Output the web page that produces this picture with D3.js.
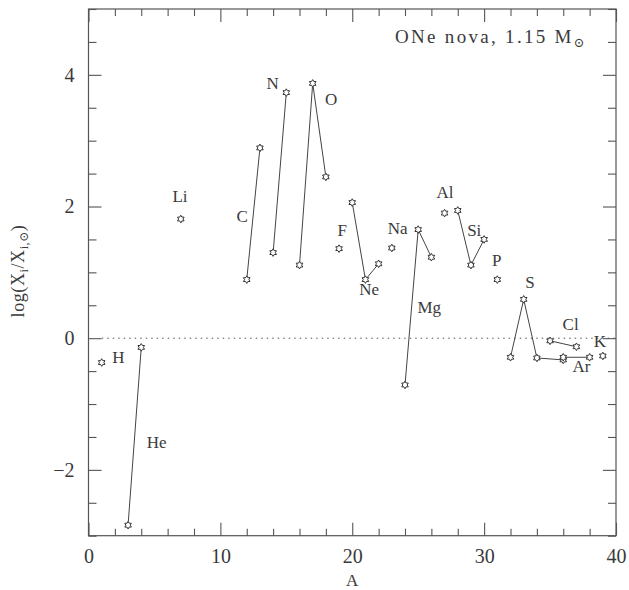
<html>
<head>
<style>
  body { margin: 0; background: #fff; }
  .frame { fill: none; stroke: #555; stroke-width: 1.2; }
  .axis path { display: none; }
  .axis line { stroke: #555; stroke-width: 1.1; }
  .axis text { font-family: "Liberation Serif", "DejaVu Serif", serif; font-size: 20px; fill: #3a3a3a; }
  .iso { fill: none; stroke: #444; stroke-width: 1; }
  .mark { fill: #fff; stroke: #333; stroke-width: 1; }
  .lab { font-family: "Liberation Serif", "DejaVu Serif", serif; font-size: 17px; fill: #3a3a3a; }
  .zero { stroke: #555; stroke-width: 1; stroke-dasharray: 1.5 4; }
</style>
<script src="https://d3js.org/d3.v7.min.js"></script>
</head>
<body>
<svg width="629" height="590"></svg>
<script>
// isotopes: mass number, log(X/Xsun), element
const isoA    = [1, 3, 4, 7, 12, 13, 14, 15, 16, 17, 18, 19, 20, 21, 22, 23, 24, 25, 26, 27, 28, 29, 30, 31, 32, 33, 34, 36, 35, 37, 36, 38, 39];
const isoVal  = [-0.37, -2.84, -0.14, 1.81, 0.89, 2.89, 1.30, 3.73, 1.11, 3.87, 2.45, 1.36, 2.06, 0.89, 1.13, 1.37, -0.71, 1.65, 1.23, 1.90, 1.94, 1.11, 1.50, 0.89, -0.29, 0.59, -0.30, -0.33, -0.04, -0.13, -0.29, -0.29, -0.27];
const isoElem = ["H", "He", "He", "Li", "C", "C", "N", "N", "O", "O", "O", "F", "Ne", "Ne", "Ne", "Na", "Mg", "Mg", "Mg", "Al", "Si", "Si", "Si", "P", "S", "S", "S", "S", "Cl", "Cl", "Ar", "Ar", "K"];

// element labels, placed in data units
const labText = ["H", "He", "Li", "C", "N", "O", "F", "Ne", "Na", "Mg", "Al", "Si", "P", "S", "Cl", "K", "Ar"];
const labA    = [2.26, 5.17, 6.94, 11.66, 13.97, 18.39, 19.24, 21.29, 23.44, 25.84, 27.03, 29.25, 30.95, 33.47, 36.56, 38.78, 37.39];
const labY    = [-0.28, -1.58, 2.16, 1.86, 3.87, 3.63, 1.65, 0.74, 1.68, 0.47, 2.22, 1.65, 1.19, 0.86, 0.21, -0.05, -0.42];

const xMajor = [0, 10, 20, 30, 40];
const yMajor = [-2, 0, 2, 4];

const svg = d3.select("svg");
const x = d3.scaleLinear().domain([0, 40]).range([88.5, 616]);
const y = d3.scaleLinear().domain([-3, 5]).range([535.7, 9]);

const L = x(0), R = x(40), T = y(5), B = y(-3);

// ticks on all four sides, pointing inwards
const xMinor = d3.range(0, 41, 2).filter(v => v % 10 != 0);
const yMinor = d3.range(-3, 5.01, 0.5).filter(v => v % 2 != 0);

svg.append("g").attr("class", "axis").attr("transform", "translate(0," + B + ")")
  .call(d3.axisBottom(x).tickValues(xMajor).tickSize(-13).tickPadding(13).tickFormat(d3.format("d")));
svg.append("g").attr("class", "axis").attr("transform", "translate(0," + B + ")")
  .call(d3.axisBottom(x).tickValues(xMinor).tickSize(-7).tickFormat(""));
svg.append("g").attr("class", "axis").attr("transform", "translate(0," + T + ")")
  .call(d3.axisTop(x).tickValues(xMajor).tickSize(-13).tickFormat(""));
svg.append("g").attr("class", "axis").attr("transform", "translate(0," + T + ")")
  .call(d3.axisTop(x).tickValues(xMinor).tickSize(-7).tickFormat(""));

svg.append("g").attr("class", "axis").attr("transform", "translate(" + L + ",0)")
  .call(d3.axisLeft(y).tickValues(yMajor).tickSize(-13).tickPadding(14).tickFormat(d => d < 0 ? "\u2212" + (-d) : d));
svg.append("g").attr("class", "axis").attr("transform", "translate(" + L + ",0)")
  .call(d3.axisLeft(y).tickValues(yMinor).tickSize(-8).tickFormat(""));
svg.append("g").attr("class", "axis").attr("transform", "translate(" + R + ",0)")
  .call(d3.axisRight(y).tickValues(yMajor).tickSize(-13).tickFormat(""));
svg.append("g").attr("class", "axis").attr("transform", "translate(" + R + ",0)")
  .call(d3.axisRight(y).tickValues(yMinor).tickSize(-8).tickFormat(""));

svg.append("rect").attr("class", "frame")
  .attr("x", L).attr("y", T).attr("width", R - L).attr("height", B - T);

// solar line
svg.append("line").attr("class", "zero")
  .attr("x1", x(1)).attr("x2", x(40)).attr("y1", y(0)).attr("y2", y(0));

// isotope lines per element
const pts = isoA.map((a, i) => ({ a: a, v: isoVal[i], el: isoElem[i] }));
const groups = d3.groups(pts, d => d.el).filter(g => g[1].length > 1);
const line = d3.line().x(d => x(d.a)).y(d => y(d.v));
svg.append("g").selectAll("path").data(groups).enter().append("path")
  .attr("class", "iso").attr("d", g => line(g[1]));

// little six-pointed star markers
const star = d3.lineRadial().curve(d3.curveLinearClosed)
  .angle((d, i) => i * Math.PI / 6)
  .radius((d, i) => i % 2 ? 2.2 : 3.8);
const starPath = star(d3.range(12));
svg.append("g").selectAll("path").data(pts).enter().append("path")
  .attr("class", "mark").attr("d", starPath)
  .attr("transform", d => "translate(" + x(d.a) + "," + y(d.v) + ")");

// element labels
svg.append("g").selectAll("text").data(labText).enter().append("text")
  .attr("class", "lab").attr("text-anchor", "middle").attr("dy", "0.35em")
  .attr("x", (d, i) => x(labA[i])).attr("y", (d, i) => y(labY[i])).text(d => d);

// title
const title = svg.append("text").attr("class", "lab")
  .attr("x", 587).attr("y", 43).attr("text-anchor", "end")
  .style("font-size", "19px").style("letter-spacing", "2.3px");
title.append("tspan").text("ONe nova, 1.15 M");
title.append("tspan").attr("dy", 4).style("font-size", "13px").text("\u2299");

// axis titles
svg.append("text").attr("class", "lab").attr("x", x(20)).attr("y", 586)
  .attr("text-anchor", "middle").style("font-size", "17px").text("A");

const yl = svg.append("text").attr("class", "lab")
  .attr("transform", "translate(24,271) rotate(-90)")
  .attr("text-anchor", "middle").style("font-size", "18px").style("letter-spacing", "0.6px");
yl.append("tspan").text("log(X");
yl.append("tspan").attr("dy", 4).style("font-size", "12px").text("i");
yl.append("tspan").attr("dy", -4).text("/X");
yl.append("tspan").attr("dy", 4).style("font-size", "12px").text("i,\u2299");
yl.append("tspan").attr("dy", -4).text(")");
</script>
</body>
</html>
